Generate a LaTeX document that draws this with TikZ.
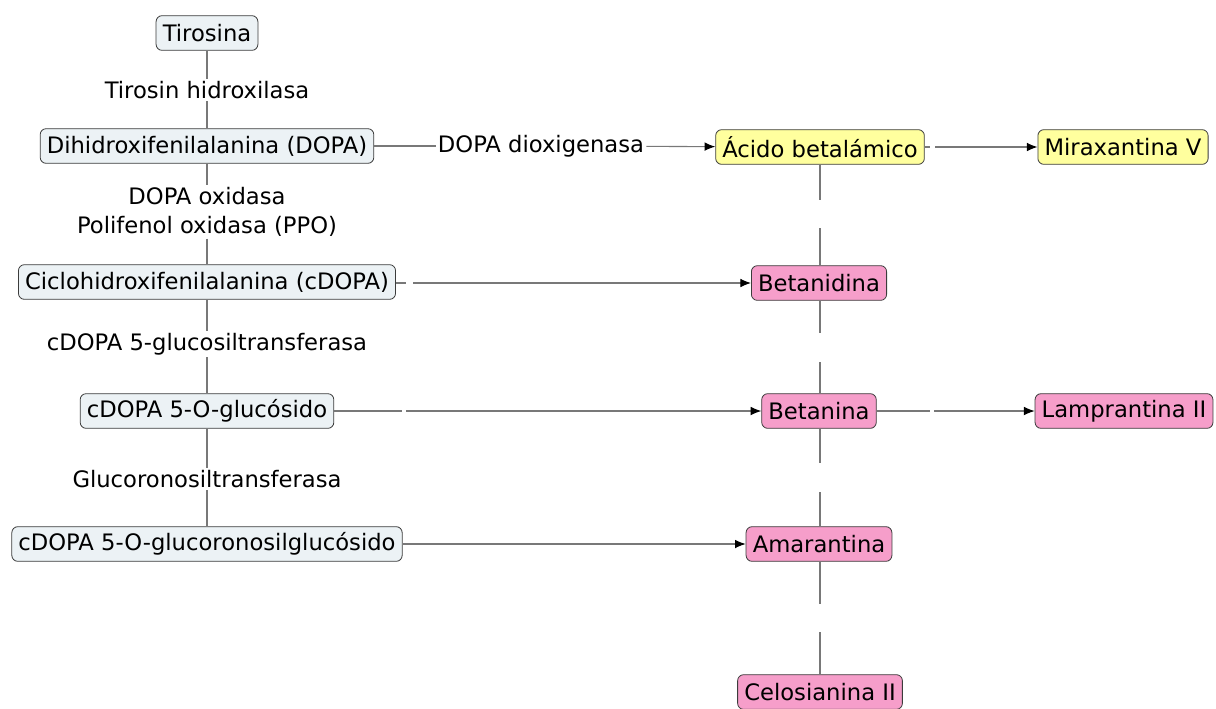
\documentclass[tikz,border=0pt]{standalone}
\usepackage{fontspec}
\setmainfont{DejaVu Sans}
\usetikzlibrary{arrows.meta}

\definecolor{cajaGris}{RGB}{236,242,245}
\definecolor{cajaAmarilla}{RGB}{255,255,158}
\definecolor{cajaRosa}{RGB}{246,158,202}
\definecolor{bordeCaja}{RGB}{60,60,60}
\definecolor{lineaEnlace}{RGB}{120,120,120}

\tikzset{
  caja/.style={draw=bordeCaja, line width=0.6pt, rounded corners=4.5pt,
    inner xsep=5pt, inner ysep=0pt, minimum height=26pt,
    font=\fontsize{17}{21}\selectfont},
  cajaInicio/.style={caja, fill=cajaGris},
  cajaBetal/.style={caja, fill=cajaAmarilla},
  cajaPigmento/.style={caja, fill=cajaRosa},
  enzima/.style={fill=white, inner sep=1.5pt, align=center,
    font=\fontsize{17}{21.5}\selectfont},
  enlace/.style={draw=lineaEnlace, line width=0.8pt},
  flecha/.style={enlace, -{Latex[length=8pt,width=6.5pt,color=black]}},
}

\begin{document}
\begin{tikzpicture}[x=0.75pt,y=0.75pt,yscale=-1,xscale=1]
\useasboundingbox (0,0) rectangle (1216,708);

%Nodes: left column
\node [cajaInicio] (tirosina) at (207,33) {Tirosina};
\node [cajaInicio] (dopa) at (207,146) {Dihidroxifenilalanina (DOPA)};
\node [cajaInicio] (cdopa) at (207,282) {Ciclohidroxifenilalanina (cDOPA)};
\node [cajaInicio] (glucosido) at (207,411) {cDOPA 5-O-glucósido};
\node [cajaInicio] (glucoronosil) at (207,544) {cDOPA 5-O-glucoronosilglucósido};

%Nodes: enzymes
\node [enzima] (tirosinHidrox) at (207,90) {Tirosin hidroxilasa};
\node [enzima] (dopaOxidasa) at (207,212) {DOPA oxidasa\\Polifenol oxidasa (PPO)};
\node [enzima] (glucosilTrans) at (207,344) {cDOPA 5-glucosiltransferasa};
\node [enzima] (glucoronTrans) at (207,479) {Glucoronosiltransferasa};
\node [enzima] (dopaDioxig) at (541,146) {DOPA dioxigenasa};

%Nodes: right column
\node [cajaBetal] (acido) at (820,147) {Ácido betalámico};
\node [cajaBetal] (miraxantina) at (1123,147) {Miraxantina V};
\node [cajaPigmento] (betanidina) at (819,283) {Betanidina};
\node [cajaPigmento] (betanina) at (819,411) {Betanina};
\node [cajaPigmento] (lamprantina) at (1124,411) {Lamprantina II};
\node [cajaPigmento] (amarantina) at (819,544) {Amarantina};
\node [cajaPigmento] (celosianina) at (820,692) {Celosianina II};

%Left column links
\draw [enlace] (tirosina) -- (tirosinHidrox);
\draw [enlace] (tirosinHidrox) -- (dopa);
\draw [enlace] (dopa) -- (dopaOxidasa);
\draw [enlace] (dopaOxidasa) -- (cdopa);
\draw [enlace] (cdopa) -- (glucosilTrans);
\draw [enlace] (glucosilTrans) -- (glucosido);
\draw [enlace] (glucosido) -- (glucoronTrans);
\draw [enlace] (glucoronTrans) -- (glucoronosil);

%Horizontal arrows
\draw [enlace] (dopa) -- (dopaDioxig);
\draw [flecha] (dopaDioxig) -- (acido);

\coordinate (hA1) at (930,147);
\coordinate (hA2) at (935,147);
\draw [enlace] (acido) -- (hA1);
\draw [flecha] (hA2) -- (miraxantina);

\coordinate (hB1) at (406,283);
\coordinate (hB2) at (413,283);
\draw [enlace] (cdopa.east |- hB1) -- (hB1);
\draw [flecha] (hB2) -- (betanidina);

\coordinate (hC1) at (402,411);
\coordinate (hC2) at (406,411);
\draw [enlace] (glucosido) -- (hC1);
\draw [flecha] (hC2) -- (betanina);

\coordinate (hD1) at (930,411);
\coordinate (hD2) at (934,411);
\draw [enlace] (betanina) -- (hD1);
\draw [flecha] (hD2) -- (lamprantina);

\draw [flecha] (glucoronosil.east |- amarantina) -- (amarantina);

%Right column links (with empty gaps)
\coordinate (vA1) at (820,200);
\coordinate (vA2) at (820,228);
\draw [enlace] (acido.south -| vA1) -- (vA1);
\draw [enlace] (vA2) -- (vA2 |- betanidina.north);

\coordinate (vB1) at (820,333);
\coordinate (vB2) at (820,362);
\draw [enlace] (vB1 |- betanidina.south) -- (vB1);
\draw [enlace] (vB2) -- (vB2 |- betanina.north);

\coordinate (vC1) at (820,463);
\coordinate (vC2) at (820,492);
\draw [enlace] (vC1 |- betanina.south) -- (vC1);
\draw [enlace] (vC2) -- (vC2 |- amarantina.north);

\coordinate (vD1) at (820,604);
\coordinate (vD2) at (820,632);
\draw [enlace] (vD1 |- amarantina.south) -- (vD1);
\draw [enlace] (vD2) -- (vD2 |- celosianina.north);

\end{tikzpicture}
\end{document}
